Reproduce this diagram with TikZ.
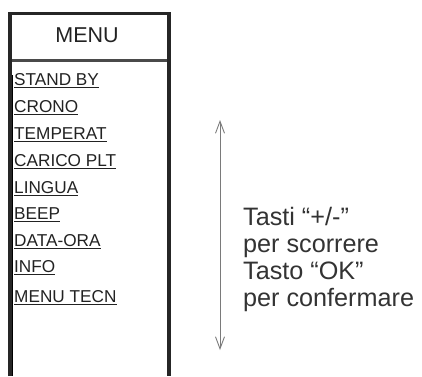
\documentclass[tikz,border=0pt]{standalone}
\usepackage{fontspec}
\setmainfont{Liberation Sans}
\usetikzlibrary{arrows.meta}
\definecolor{frame}{HTML}{262626}
\definecolor{sepgray}{HTML}{4A4A4A}
\definecolor{ink}{HTML}{222222}
\definecolor{txt}{HTML}{333333}
\definecolor{arrowgray}{HTML}{7A7A7A}
\begin{document}
\begin{tikzpicture}[x=1pt,y=-1pt,
  item/.style={anchor=base west,inner sep=0pt,text=ink,font=\fontsize{17.2}{19}\selectfont},
  uline/.style={draw=ink,line width=0.9pt},
  note/.style={anchor=base west,inner sep=0pt,text=txt,font=\fontsize{25.2}{28}\selectfont},
  frameline/.style={draw=frame,line width=3.8pt},
]
\useasboundingbox (0,0) rectangle (422,376);
% frame
\draw[frameline] (10,376) -- (10,13.5) -- (168.7,13.5) -- (168.7,376);
\draw[draw=sepgray,line width=2.6pt] (11.9,60.3) -- (166.8,60.3);
\draw[draw=black,line width=1.6pt] (12.6,75) -- (12.6,376);
% title
\node[inner sep=0pt,text=ink,font=\fontsize{21.5}{24}\selectfont] (title) at (87,35) {MENU};
% items
\foreach \n/\t/\y in {sb/STAND BY/85, cr/CRONO/112, te/TEMPERAT/139, ca/CARICO PLT/166,
  li/LINGUA/193, be/BEEP/219, da/DATA-ORA/246, in/INFO/272, mt/MENU TECN/302} {
  \node[item] (\n) at (14,\y) {\t};
  \draw[uline] ([yshift=-2.3pt]\n.base west) -- ([yshift=-2.3pt]\n.base east);
}
% arrow
\coordinate (up) at (220,120);
\coordinate (dn) at (220,350);
\draw[draw=arrowgray,line width=0.9pt,{Straight Barb[length=12pt,width=9pt]}-{Straight Barb[length=12pt,width=9pt]}] (up) -- (dn);
% note
\node[note] (n1) at (243,225) {Tasti “+/-”};
\node[note] (n2) at (243,252) {per scorrere};
\node[note] (n3) at (243,279) {Tasto “OK”};
\node[note] (n4) at (243,306) {per confermare};
\end{tikzpicture}
\end{document}
